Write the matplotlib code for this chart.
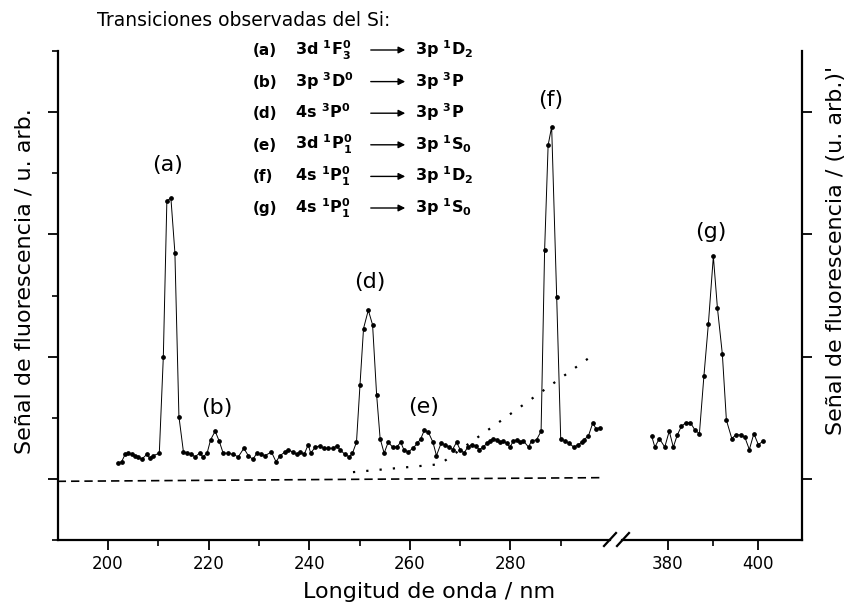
import matplotlib
matplotlib.use("Agg")
import matplotlib.pyplot as plt
from matplotlib.lines import Line2D
from matplotlib.patches import FancyArrowPatch

matplotlib.rcParams.update({
    "font.family": "DejaVu Sans",
    "mathtext.fontset": "dejavusans",
    "mathtext.default": "bf",
})

W, H = 848, 612  # output size in pixels (dpi 100)

# ---------------------------------------------------------------------------
# Spectrum, UV part (190-300 nm)
# ---------------------------------------------------------------------------
WL_UV = [
    202.0, 202.7, 203.4, 204.0, 204.7, 205.4, 206.0, 206.7, 207.7, 208.3,
    209.0, 210.2, 211.0, 211.7, 212.5, 213.3, 214.1, 215.0, 215.8, 216.6,
    217.3, 218.2, 218.9, 219.7, 220.4, 221.3, 222.1, 222.9, 223.9, 224.9,
    225.9, 227.0, 227.9, 228.8, 229.6, 230.4, 231.2, 232.5, 233.4, 234.2,
    235.2, 235.8, 236.7, 237.5, 238.2, 239.0, 239.8, 240.3, 241.2, 242.1,
    242.9, 243.8, 244.7, 245.5, 246.1, 247.1, 248.0, 248.6, 249.4, 250.1,
    250.8, 251.75, 252.6, 253.4, 254.1, 254.9, 255.7, 256.6, 257.4, 258.2,
    258.8, 259.7, 260.6, 261.5, 262.2, 262.9, 263.7, 264.6, 265.3, 266.2,
    267.0, 267.8, 268.5, 269.3, 270.0, 270.8, 271.5, 272.3, 273.1, 273.8,
    274.6, 275.3, 275.9, 276.6, 277.3, 277.9, 278.6, 279.3, 279.9, 280.6,
    281.3, 281.9, 282.6, 283.6, 284.2, 285.2, 286.1, 286.8, 287.5, 288.2,
    289.2, 290.0, 290.9, 291.7, 292.6, 293.5, 294.2, 294.6, 295.5, 296.4,
    297.0, 297.9,
]
SIG_UV = [
    0.13, 0.14, 0.20, 0.21, 0.20, 0.19, 0.18, 0.16, 0.20, 0.17,
    0.19, 0.21, 1.00, 2.27, 2.30, 1.85, 0.51, 0.22, 0.21, 0.20,
    0.18, 0.21, 0.18, 0.21, 0.32, 0.39, 0.31, 0.21, 0.21, 0.20,
    0.18, 0.25, 0.19, 0.16, 0.21, 0.20, 0.19, 0.22, 0.14, 0.19,
    0.22, 0.24, 0.22, 0.20, 0.22, 0.20, 0.28, 0.21, 0.26, 0.27,
    0.25, 0.25, 0.25, 0.27, 0.24, 0.20, 0.18, 0.21, 0.30, 0.77,
    1.23, 1.38, 1.26, 0.69, 0.33, 0.21, 0.30, 0.26, 0.26, 0.30,
    0.24, 0.22, 0.25, 0.29, 0.33, 0.40, 0.38, 0.30, 0.19, 0.29,
    0.28, 0.26, 0.24, 0.30, 0.24, 0.21, 0.26, 0.28, 0.27, 0.24,
    0.26, 0.29, 0.31, 0.33, 0.32, 0.30, 0.31, 0.29, 0.26, 0.31,
    0.32, 0.30, 0.31, 0.26, 0.31, 0.32, 0.39, 1.87, 2.73, 2.88,
    1.49, 0.33, 0.31, 0.29, 0.26, 0.28, 0.30, 0.32, 0.35, 0.46,
    0.41, 0.42,
]

# Spectrum, visible part (around the 390 nm line)
WL_VIS = [
    376.4, 377.1, 378.1, 379.3, 380.3, 381.2, 382.1, 383.0, 384.0, 385.0,
    386.0, 387.0, 388.0, 389.0, 390.1, 391.0, 392.1, 393.0, 394.2, 395.1,
    396.2, 397.1, 398.1, 399.1, 400.1, 401.2,
]
SIG_VIS = [
    0.35, 0.26, 0.33, 0.26, 0.39, 0.26, 0.36, 0.43, 0.46, 0.46,
    0.40, 0.37, 0.84, 1.27, 1.82, 1.40, 1.02, 0.48, 0.33, 0.36,
    0.36, 0.34, 0.24, 0.37, 0.28, 0.31,
]

# Zero level (dashed) and background trend (dotted)
BASE_WL = [190.0, 298.5]
BASE_SIG = [-0.02, 0.01]
TREND_WL = [248.7, 266.0, 296.5]
TREND_SIG = [0.055, 0.12, 1.015]

# Peak tags
PEAK_TAGS = ["(a)", "(b)", "(d)", "(e)", "(f)"]
PEAK_TAG_X = [211.9, 221.6, 252.1, 262.8, 288.1]
PEAK_TAG_Y = [2.57, 0.58, 1.61, 0.59, 3.10]
G_TAG_X, G_TAG_Y = 389.6, 2.02

# Transition list
TRANS_KEYS = ["(a)", "(b)", "(d)", "(e)", "(f)", "(g)"]
TRANS_UPPER = [
    r"$3d\ ^{1}F_{3}^{0}$",
    r"$3p\ ^{3}D^{0}$",
    r"$4s\ ^{3}P^{0}$",
    r"$3d\ ^{1}P_{1}^{0}$",
    r"$4s\ ^{1}P_{1}^{0}$",
    r"$4s\ ^{1}P_{1}^{0}$",
]
TRANS_LOWER = [
    r"$3p\ ^{1}D_{2}$",
    r"$3p\ ^{3}P$",
    r"$3p\ ^{3}P$",
    r"$3p\ ^{1}S_{0}$",
    r"$3p\ ^{1}D_{2}$",
    r"$3p\ ^{1}S_{0}$",
]


def fx(px):
    return px / W


def fy(py):
    return 1 - py / H


fig = plt.figure(figsize=(W / 100, H / 100), dpi=100)

ax_bottom, ax_height = fy(540), (540 - 51) / H
ax1 = fig.add_axes([fx(58), ax_bottom, (610 - 58) / W, ax_height])
ax2 = fig.add_axes([fx(622), ax_bottom, (802 - 622) / W, ax_height])

# ---- UV segment ----
ax1.plot(BASE_WL, BASE_SIG, color="black", lw=1.2, ls=(0, (5, 3)))
ax1.plot(TREND_WL, TREND_SIG, color="black", lw=1.6, ls=(0, (1, 5)))
ax1.plot(WL_UV, SIG_UV, color="black", lw=0.7, marker="o", ms=2.4)
for tag, x, y in zip(PEAK_TAGS, PEAK_TAG_X, PEAK_TAG_Y):
    ax1.text(x, y, tag, ha="center", va="center", fontsize=16)

ax1.set_xlim(190.06, 299.8)
ax1.set_ylim(-0.5, 3.5)
ax1.set_xticks([200, 220, 240, 260, 280])
ax1.set_xticks([210, 230, 250, 270, 290], minor=True)
ax1.set_yticks([0, 1, 2, 3])
ax1.set_yticks([-0.5, 0.5, 1.5, 2.5, 3.5], minor=True)
ax1.tick_params(which="major", direction="out", length=7, width=1.3,
                labelsize=12, labelleft=False)
ax1.tick_params(which="minor", direction="out", length=4, width=1.2)
ax1.spines["top"].set_visible(False)
ax1.spines["right"].set_visible(False)
for s in ("left", "bottom"):
    ax1.spines[s].set_linewidth(1.6)

ax1.set_ylabel("Señal de fluorescencia / u. arb.", fontsize=16)
ax1.yaxis.set_label_coords(-0.06, 0.53)
ax1.yaxis.label.set_va("center")
ax1.set_xlabel("Longitud de onda / nm", fontsize=16)
ax1.xaxis.set_label_coords((429 - 58) / 552, -(592 - 540) / 489)
ax1.xaxis.label.set_va("center")

# ---- visible segment ----
ax2.plot(WL_VIS, SIG_VIS, color="black", lw=0.7, marker="o", ms=2.4)
ax2.text(G_TAG_X, G_TAG_Y, "(g)", ha="center", va="center", fontsize=16)

ax2.set_xlim(369.8, 409.8)
ax2.set_ylim(-0.5, 3.5)
ax2.set_xticks([380, 400])
ax2.set_xticks([390], minor=True)
ax2.yaxis.tick_right()
ax2.set_yticks([0, 1, 2, 3])
ax2.tick_params(which="major", direction="out", length=7, width=1.3,
                labelsize=12, labelright=False)
ax2.tick_params(which="minor", direction="out", length=4, width=1.2)
ax2.spines["top"].set_visible(False)
ax2.spines["left"].set_visible(False)
for s in ("right", "bottom"):
    ax2.spines[s].set_linewidth(1.6)

ax2.yaxis.set_label_position("right")
ax2.set_ylabel("Señal de fluorescencia / (u. arb.)'", fontsize=16)
ax2.yaxis.set_label_coords((836 - 622) / 180, (540 - 250) / 489)
ax2.yaxis.label.set_va("center")

# axis break marks
for cx in (610, 623):
    fig.add_artist(Line2D([fx(cx - 6), fx(cx + 6)], [fy(546), fy(533)],
                          color="black", lw=1.6))

# ---- transition list ----
fig.text(fx(97), fy(20), "Transiciones observadas del Si:", fontsize=13.5,
         va="center")
for i, (key, up, low) in enumerate(zip(TRANS_KEYS, TRANS_UPPER, TRANS_LOWER)):
    row = 50 + 31.6 * i
    fig.text(fx(253), fy(row + 5), key, fontsize=11, fontweight="bold",
             va="baseline")
    fig.text(fx(295), fy(row + 5), up, fontsize=11.5, va="baseline")
    fig.add_artist(FancyArrowPatch((fx(368), fy(row)), (fx(408), fy(row)),
                                   transform=fig.transFigure,
                                   arrowstyle="-|>", mutation_scale=10,
                                   lw=1.0, color="black"))
    fig.text(fx(415), fy(row + 5), low, fontsize=11.5, va="baseline")

fig.savefig("out.png", dpi=100)
